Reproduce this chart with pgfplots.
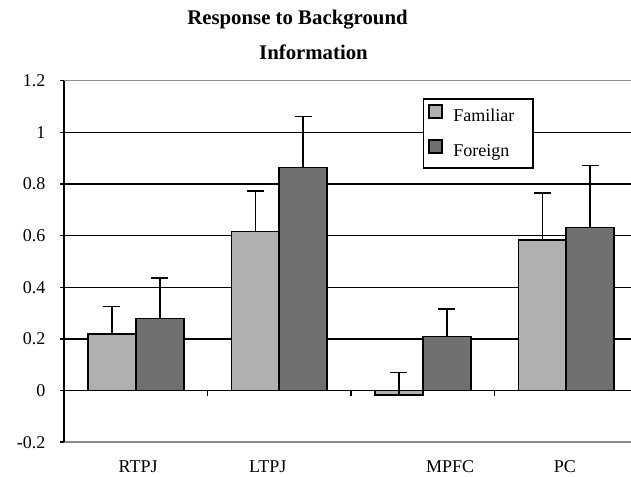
\documentclass[border=0pt]{standalone}
\usepackage{pgfplots}
\pgfplotsset{compat=1.18}
\usepackage{fontspec}
\setmainfont{Liberation Serif}
\definecolor{famc}{RGB}{176,176,176}
\definecolor{forc}{RGB}{112,112,112}
\begin{document}
\begin{tikzpicture}[x=1bp,y=1bp]
\useasboundingbox (0,0) rectangle (631,477);
\begin{axis}[
  at={(64bp,34.7bp)}, anchor=south west,
  scale only axis, width=567bp, height=361.6bp,
  xmin=-0.5, xmax=3.451, ymin=-0.2, ymax=1.2,
  clip=false,
  axis line style={draw=none},
  ytick={-0.2,0,0.2,0.4,0.6,0.8,1,1.2},
  yticklabels={-0.2,0,0.2,0.4,0.6,0.8,1,1.2},
  ymajorgrids, grid style={black, line width=1.6bp},
  ytick pos=left, tick align=outside, major tick length=4bp,
  ytick style={black, line width=1.6bp},
  xtick={0.016,0.92,2.19,2.99}, xticklabels={RTPJ,LTPJ,MPFC,PC},
  xtick style={draw=none},
  ticklabel style={font=\fontsize{18bp}{20bp}\selectfont},
  xticklabel style={anchor=base, yshift=-26.5bp},
  yticklabel style={xshift=-11bp},
  ybar, bar width=0.3345,
  error bars/y dir=plus, error bars/y explicit,
  error bars/error bar style={black, line width=1.6bp},
  error bars/error mark options={rotate=90, black, line width=1.6bp, mark size=8.5bp},
  legend image code/.code={\draw[#1, line width=1.6bp] (0bp,-0.5bp) rectangle (13bp,12.5bp); \path[draw=none, fill=none] (13bp,6bp) rectangle (22bp,6bp);},
  legend style={at={(0.6326,0.9513)}, anchor=north west, draw=black, line width=1.6bp,
    font=\fontsize{18bp}{20bp}\selectfont, inner xsep=5bp, inner ysep=5bp, row sep=11bp,
    nodes={text height=13bp, text depth=4bp, inner sep=2bp, text width=73bp, align=left}},
  legend cell align=left,
]
\addplot[bar shift=-0.167, fill=famc, draw=black, line width=1.6bp]
  coordinates {(0,0.2195) +- (0,0.107) (1,0.616) +- (0,0.156) (2,-0.018) +- (0,0.089) (3,0.583) +- (0,0.182)};
\addplot[bar shift=0.167, fill=forc, draw=black, line width=1.6bp]
  coordinates {(0,0.279) +- (0,0.156) (1,0.864) +- (0,0.197) (2,0.210) +- (0,0.107) (3,0.632) +- (0,0.239)};
\legend{Familiar,Foreign}
\draw[black!45, line width=1.6bp] (rel axis cs:0,0) -- (rel axis cs:1,0);
\draw[black!45, line width=1.6bp] (rel axis cs:0,1) -- (rel axis cs:1,1);
\draw[black, line width=1.6bp] (rel axis cs:0,0) -- (rel axis cs:0,1);
\draw[black, line width=1.6bp] (axis cs:0.5,0) -- ([yshift=-5.5bp]axis cs:0.5,0);
\draw[black, line width=1.6bp] (axis cs:1.5,0) -- ([yshift=-5.5bp]axis cs:1.5,0);
\draw[black, line width=1.6bp] (axis cs:2.5,0) -- ([yshift=-5.5bp]axis cs:2.5,0);
\end{axis}
\node[font=\bfseries\fontsize{20.8bp}{24bp}\selectfont, anchor=base] at (297.5,452) {Response to Background};
\node[font=\bfseries\fontsize{20.8bp}{24bp}\selectfont, anchor=base] at (313.5,417) {Information};
\end{tikzpicture}
\end{document}
